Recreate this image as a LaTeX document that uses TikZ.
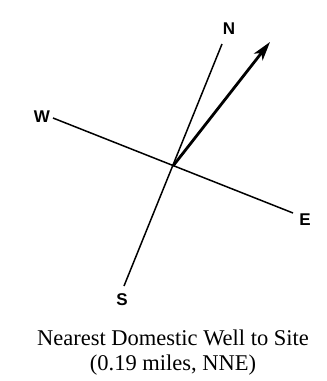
\documentclass[tikz,border=0pt]{standalone}
\usepackage{fontspec}
\setmainfont{Liberation Serif}
\setsansfont{Liberation Sans}
\usetikzlibrary{arrows.meta}

\begin{document}
\begin{tikzpicture}[
  x=1pt, y=-1pt,
  axisline/.style={line width=1.5pt, black},
  well/.style={line width=2.8pt, black, -{Stealth[length=19pt, width=11pt, inset=5pt]}},
  dir/.style={font=\sffamily\bfseries\fontsize{17}{17}\selectfont, inner sep=0pt},
  caption/.style={font=\fontsize{22.5}{25}\selectfont, align=center, inner sep=0pt}
]
\useasboundingbox (0,0) rectangle (327,381);
% --- compass axes ---
\coordinate (c) at (173,166);
\coordinate (nend) at (222,44);
\coordinate (send) at (124,286);
\coordinate (wend) at (53,118);
\coordinate (eend) at (293,213);
\coordinate (tip) at (270,42);
% --- direction labels ---
\node[dir] (n) at (229,29) {N};
\node[dir] (s) at (122,300) {S};
\node[dir] (w) at (42,117) {W};
\node[dir] (e) at (305,220) {E};
% --- lines ---
\draw[axisline] (nend) -- (send);
\draw[axisline] (wend) -- (eend);
\draw[well] (c) -- (tip);
% --- caption ---
\node[caption] (cap) at (173,353) {Nearest Domestic Well to Site\\(0.19 miles, NNE)};
\end{tikzpicture}
\end{document}
